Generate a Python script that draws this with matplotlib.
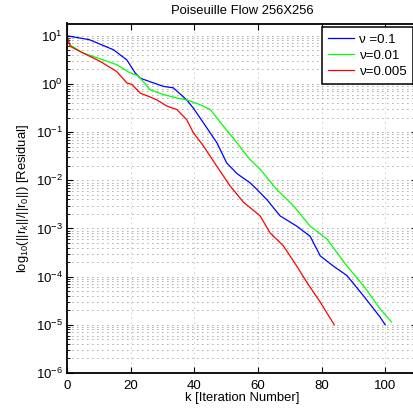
import numpy as np
import matplotlib.pyplot as plt
from matplotlib.ticker import LogLocator, NullFormatter

plt.rcParams['font.family'] = ['Liberation Sans', 'DejaVu Sans']
plt.rcParams['mathtext.fontset'] = 'custom'
plt.rcParams['mathtext.rm'] = 'Liberation Sans'
plt.rcParams['mathtext.it'] = 'Liberation Sans:italic'

# iteration number / residual
k_01 = [0, 7, 14.6, 18.8, 21.4, 23, 26, 30.3, 33.4, 37.6, 39.7, 42.9, 47.1, 50.2,
        53.4, 57.5, 59.7, 62.8, 67, 72.2, 76.4, 79.6, 83.7, 88, 93.2, 98.4, 100]
r_01 = [10, 8.32, 5.13, 3.16, 1.70, 1.32, 1.12, 0.891, 0.832, 0.468, 0.316, 0.155,
        0.0603, 0.0229, 0.0138, 0.00891, 0.00646, 0.00398, 0.00182, 0.00112,
        6.9e-4, 2.7e-4, 1.66e-4, 1.05e-4, 3.98e-5, 1.45e-5, 1.0e-5]

k_001 = [0, 1, 5.1, 11.4, 15.6, 19.8, 22.4, 26.1, 30.3, 34.5, 37.6, 41.8, 45, 49.2,
         53.4, 57.5, 60.7, 65.9, 71.2, 76.4, 81.7, 88, 93.2, 98.4, 102]
r_001 = [10, 6.46, 4.37, 3.16, 2.51, 1.70, 1.48, 0.759, 0.603, 0.513, 0.468, 0.372,
         0.295, 0.132, 0.0603, 0.0269, 0.0170, 0.00646, 0.00295, 0.00112, 6.03e-4,
         1.66e-4, 6.46e-5, 2.14e-5, 1.15e-5]

k_0005 = [0, 1, 5.1, 10.4, 15.6, 18.8, 20.4, 23, 26.1, 28.2, 31.4, 34.5, 37.6, 39.7,
          42.9, 47.1, 51.3, 55.4, 60.7, 63.8, 68, 72.2, 75.4, 79.6, 84]
r_0005 = [10, 6.03, 4.37, 2.95, 1.82, 1.05, 0.977, 0.646, 0.537, 0.468, 0.347, 0.295,
          0.182, 0.0977, 0.0513, 0.0195, 0.00759, 0.00355, 0.00182, 8.13e-4, 4.37e-4,
          1.66e-4, 7.59e-5, 2.95e-5, 1.0e-5]

labels = ["\u03bd =0.1", "\u03bd=0.01", "\u03bd=0.005"]

fig = plt.figure(figsize=(4.14, 4.12), dpi=100)
ax = fig.add_axes([67/414, 39/412, 350/414, 349.5/412])

ax.semilogy(k_01, r_01, c=(0, 0, 1), lw=0.9, label=labels[0])
ax.semilogy(k_001, r_001, c=(0, 1, 0), lw=0.9, label=labels[1])
ax.semilogy(k_0005, r_0005, c=(1, 0, 0), lw=0.9, label=labels[2])

ax.set_xlim(0, 110)
ax.set_ylim(1e-6, 18)
ax.set_xticks([0, 20, 40, 60, 80, 100])
ax.yaxis.set_major_locator(LogLocator(base=10, numticks=20))
ax.yaxis.set_minor_locator(LogLocator(base=10, subs=np.arange(2, 10), numticks=20))
ax.yaxis.set_minor_formatter(NullFormatter())

ax.grid(True, which='major', axis='x', ls=(0, (1, 5)), color='#999999', lw=0.6)
ax.grid(True, which='both', axis='y', ls=(0, (1, 5)), color='#555555', lw=0.6)

ax.tick_params(which='both', direction='in', top=True, right=True, labelsize=9.5)
ax.tick_params(which='major', length=4, pad=3)
ax.tick_params(axis='x', which='major', pad=5)
ax.tick_params(which='minor', length=2)
for s in ax.spines.values():
    s.set_linewidth(1.3)

ax.set_title("Poiseuille Flow 256X256", fontsize=9.4, pad=7)
ax.set_xlabel("k [Iteration Number]", fontsize=9.4, labelpad=0)
ax.set_ylabel(r"log$_{10}$(||r$_k$||/||r$_0$||) [Residual]", fontsize=9.4, labelpad=3)

leg = ax.legend(loc='upper right', fontsize=9.5, fancybox=False, framealpha=1,
                edgecolor='black', borderaxespad=0.3, handlelength=2.0,
                handletextpad=0.4, borderpad=0.45, labelspacing=0.3)
leg.get_frame().set_linewidth(1.1)

fig.savefig("out.png", dpi=100)
